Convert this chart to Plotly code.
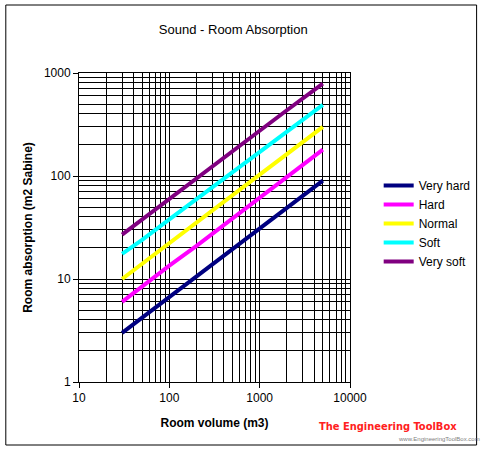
import plotly.graph_objects as go

volumes = [30, 50, 100, 200, 500, 1000, 2000, 5000]
very_hard = [3.0, 4.2, 6.7, 10.6, 19.5, 31, 49, 90]
hard = [6.0, 8.5, 13.5, 21, 39, 62, 98, 180]
normal = [10.0, 14, 22, 35, 65, 103, 163, 300]
soft = [17.5, 24, 38, 60, 110, 172, 275, 490]
very_soft = [27.0, 38, 60, 95, 175, 275, 435, 790]

series = [
    ("Very hard", very_hard, "#000080"),
    ("Hard", hard, "#FF00FF"),
    ("Normal", normal, "#FFFF00"),
    ("Soft", soft, "#00FFFF"),
    ("Very soft", very_soft, "#800080"),
]

FONT = "Arial, Liberation Sans, sans-serif"

fig = go.Figure()
for name, vals, col in series:
    fig.add_trace(go.Scatter(x=volumes, y=vals, mode="lines", name=name,
                             line=dict(color=col, width=4)))

L, R, T, B = 79, 135, 73, 70
W, H = 488, 452
pw, ph = W - L - R, H - T - B

def px(x):
    return (x - L) / pw

def py(y):
    return (H - B - y) / ph

fig.update_layout(
    width=W, height=H,
    margin=dict(l=L, r=R, t=T, b=B),
    paper_bgcolor="white", plot_bgcolor="white",
    font=dict(family=FONT, size=11, color="black"),
    title=dict(text="Sound - Room Absorption", x=px(235), xref="paper", xanchor="center",
               y=1 - 29 / H, yanchor="middle", font=dict(size=13, family=FONT)),
    showlegend=True,
    legend=dict(x=px(382), y=py(171), xanchor="left", yanchor="top",
                bgcolor="rgba(0,0,0,0)", borderwidth=0,
                font=dict(size=12, family=FONT), tracegroupgap=0,
                itemwidth=30),
    xaxis=dict(type="log", range=[1, 4], showline=True, linecolor="black", linewidth=1,
               mirror=True, ticks="outside", ticklen=5, tickcolor="black",
               tickvals=[10, 100, 1000, 10000], ticktext=["10", "100", "1000", "10000"],
               showgrid=True, gridcolor="black", gridwidth=1,
               minor=dict(showgrid=True, gridcolor="black", gridwidth=1, ticks="",
                          tickmode="linear", tick0=0, dtick="D1"),
               zeroline=False,
               title=dict(text="<b>Room volume (m3)</b>", font=dict(size=12, family=FONT), standoff=14),
               tickfont=dict(size=12, family=FONT)),
    yaxis=dict(type="log", range=[0, 3], showline=True, linecolor="black", linewidth=1,
               mirror=True, ticks="outside", ticklen=5, tickcolor="black",
               tickvals=[1, 10, 100, 1000], ticktext=["1", "10", "100", "1000"],
               showgrid=True, gridcolor="black", gridwidth=1,
               minor=dict(showgrid=True, gridcolor="black", gridwidth=1, ticks="",
                          tickmode="linear", tick0=0, dtick="D1"),
               zeroline=False,
               title=dict(text="<b>Room absorption (m2 Sabine)</b>", font=dict(size=12, family=FONT), standoff=8),
               tickfont=dict(size=12, family=FONT)),
    shapes=[dict(type="rect", xref="paper", yref="paper",
                 x0=px(5), x1=px(481), y0=py(445), y1=py(5),
                 line=dict(color="black", width=1), fillcolor="rgba(0,0,0,0)", layer="below")],
    annotations=[
        dict(text="<b>The Engineering ToolBox</b>", xref="paper", yref="paper",
             x=px(391), y=py(426), xanchor="center", yanchor="middle", showarrow=False,
             font=dict(size=11, color="#FF2020",
                       family="Liberation Sans Narrow, DejaVu Sans Condensed, sans-serif")),
        dict(text="www.EngineeringToolBox.com", xref="paper", yref="paper",
             x=px(443), y=py(439), xanchor="center", yanchor="middle", showarrow=False,
             font=dict(size=6, color="#808080", family=FONT)),
    ],
)

fig.write_html("out.html")
